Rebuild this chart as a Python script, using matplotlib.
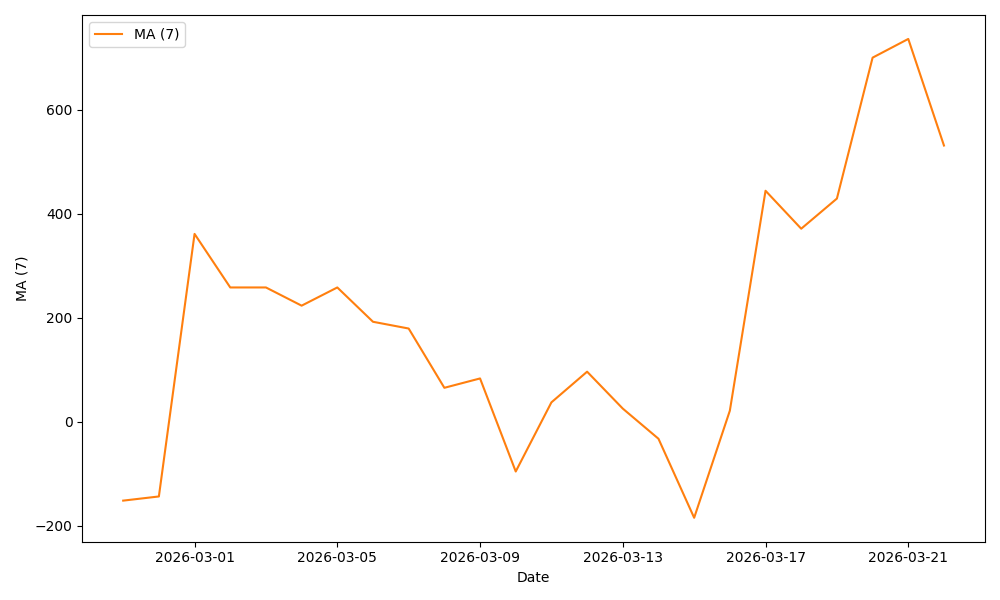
import matplotlib
matplotlib.use("Agg")
import matplotlib.pyplot as plt
import matplotlib.dates as mdates
import pandas as pd

dates = pd.date_range("2026-02-27", "2026-03-22", freq="D")
ma7 = [-152, -144, 361, 258, 258, 223, 258, 192, 179, 65, 83, -96, 37, 96, 25,
       -33, -185, 21, 444, 371, 429, 700, 736, 531]

fig, ax = plt.subplots(figsize=(10, 6), dpi=100)
ax.plot(dates, ma7, color="#ff7f0e", label="MA (7)")
ax.set_xlabel("Date")
ax.set_ylabel("MA (7)")
ax.set_yticks([-200, 0, 200, 400, 600])
ax.xaxis.set_major_locator(mdates.DayLocator(bymonthday=[1, 5, 9, 13, 17, 21]))
ax.xaxis.set_major_formatter(mdates.DateFormatter("%Y-%m-%d"))
ax.legend(loc="upper left")
fig.tight_layout()
fig.savefig("out.png")
